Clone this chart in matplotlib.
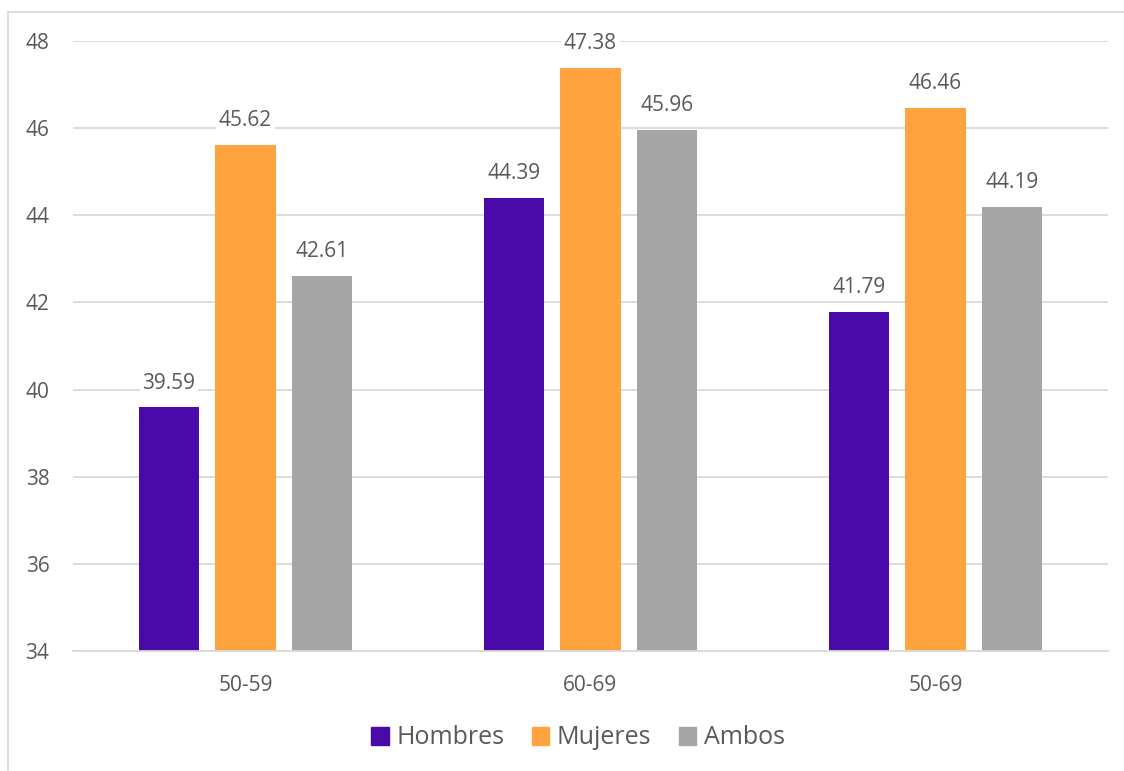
import matplotlib.pyplot as plt
import numpy as np
from matplotlib.lines import Line2D

# Age groups and mean values per sex
groups = ['50-59', '60-69', '50-69']
series_names = ['Hombres', 'Mujeres', 'Ambos']
hombres = [39.59, 44.39, 41.79]
mujeres = [45.62, 47.38, 46.46]
ambos = [42.61, 45.96, 44.19]
y_ticks = [34, 36, 38, 40, 42, 44, 46, 48]

colors = ['#4A0AAA', '#FFA33F', '#A5A5A5']
text_color = '#595959'
grid_color = '#D9D9D9'

plt.rcParams['font.family'] = ['Open Sans', 'DejaVu Sans']

fig = plt.figure(figsize=(11.24, 7.71), dpi=100)
ax = fig.add_axes([73 / 1124, 1 - 651 / 771, (1108 - 73) / 1124, (651 - 41) / 771])

x = np.arange(len(groups))
width = 0.174
step = 0.222
for i, (name, vals) in enumerate(zip(series_names, [hombres, mujeres, ambos])):
    pos = x + (i - 1) * step
    ax.bar(pos, np.array(vals) - 34, bottom=34, width=width, color=colors[i],
           label=name, zorder=2)
    for xp, v in zip(pos, vals):
        ax.text(xp, v + 0.56, f'{v:.2f}', ha='center', va='center',
                fontsize=15, color=text_color, zorder=3,
                bbox=dict(facecolor='white', edgecolor='none', pad=2))

ax.set_xlim(-0.5, 2.5)
ax.set_ylim(34, 48)
ax.set_yticks(y_ticks)
ax.set_yticklabels([str(t) for t in y_ticks], fontsize=15, color=text_color)
ax.set_xticks(x)
ax.set_xticklabels(groups, fontsize=15, color=text_color)
ax.tick_params(length=0)
ax.tick_params(axis='y', pad=17)
ax.tick_params(axis='x', pad=17)
ax.grid(axis='y', color=grid_color, linewidth=1.3, zorder=0)
for side in ['top', 'right', 'left']:
    ax.spines[side].set_visible(False)
ax.spines['bottom'].set_color(grid_color)
ax.spines['bottom'].set_linewidth(1.3)

# Legend across the bottom
handles = [plt.Rectangle((0, 0), 1, 1, color=c) for c in colors]
fig.legend(handles, series_names, loc='center', bbox_to_anchor=(578 / 1124, 1 - 738 / 771),
           ncol=3, frameon=False, fontsize=18, labelcolor=text_color,
           handlelength=0.7, handleheight=0.7, handletextpad=0.3, columnspacing=1.1)

# Chart area border (left and top edges)
fig.add_artist(Line2D([8 / 1124, 8 / 1124], [0, 1 - 12 / 771], transform=fig.transFigure,
                      color=grid_color, linewidth=1.3))
fig.add_artist(Line2D([8 / 1124, 1], [1 - 12 / 771, 1 - 12 / 771], transform=fig.transFigure,
                      color=grid_color, linewidth=1.3))

fig.savefig('out.png', dpi=100, facecolor='white')
